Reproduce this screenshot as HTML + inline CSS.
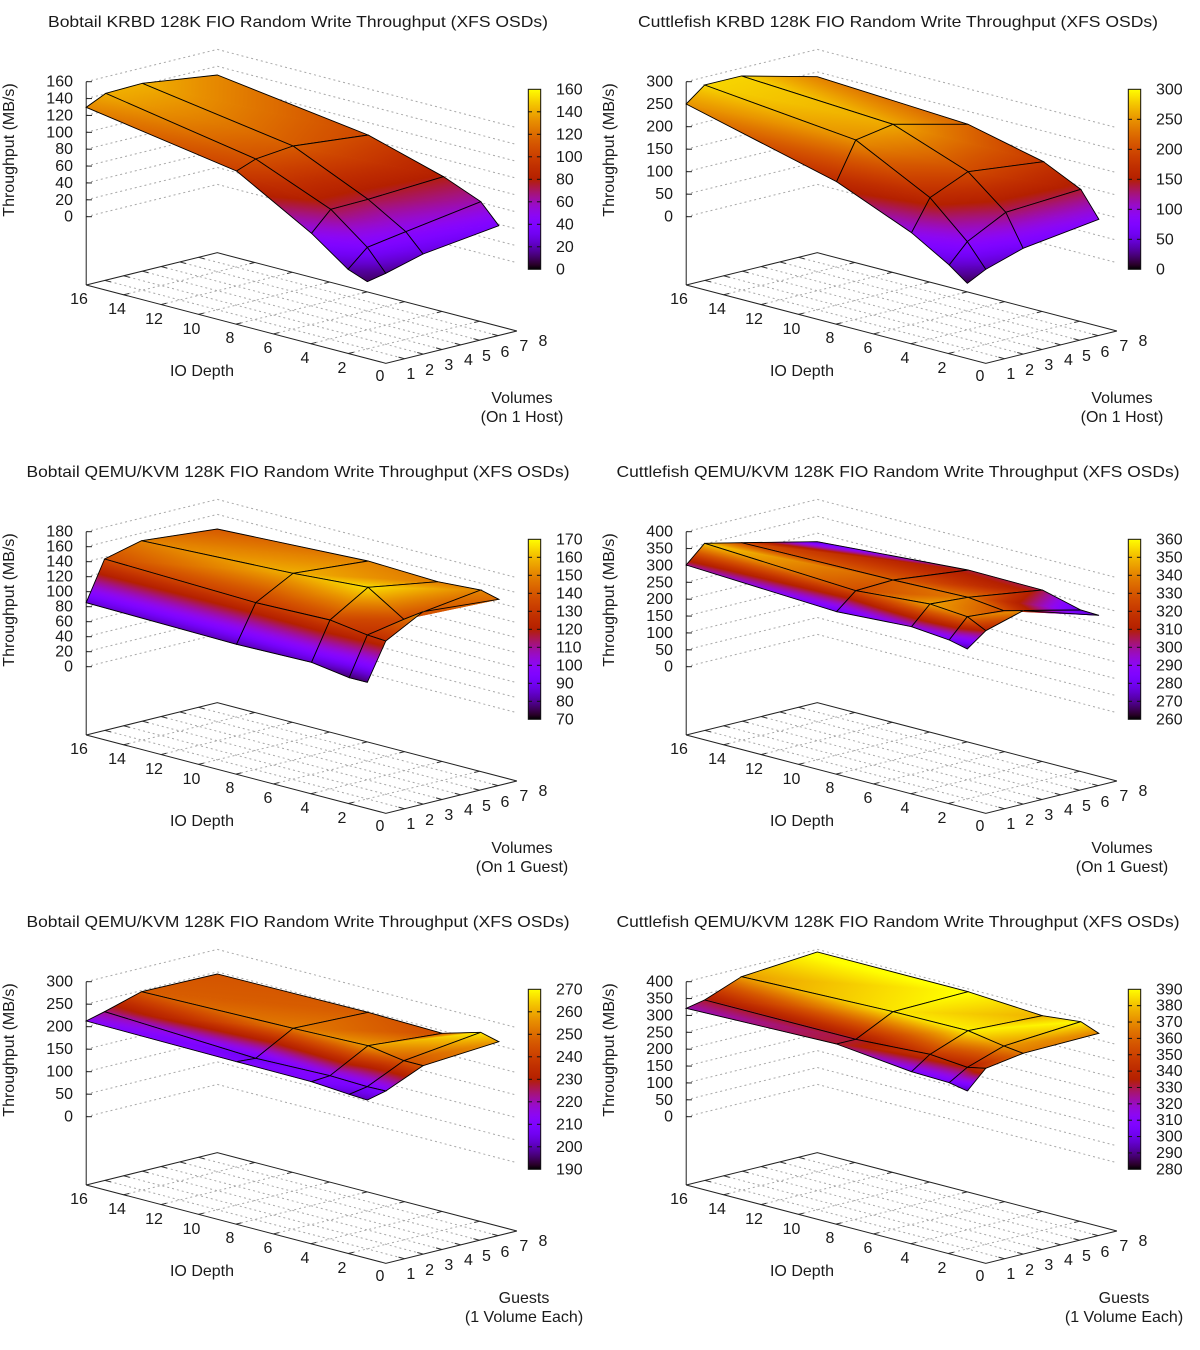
<!DOCTYPE html>
<html><head><meta charset="utf-8"><style>
html,body{margin:0;padding:0;background:#fff}
svg{display:block}
text{font-family:"Liberation Sans","DejaVu Sans",sans-serif;font-size:16px;fill:#1a1a1a}
.t{font-size:16px}
.e{text-anchor:end}
.m{text-anchor:middle}
</style></head><body>
<svg id="s" width="1200" height="1350" viewBox="0 0 1200 1350" xmlns="http://www.w3.org/2000/svg">
<defs id="defs"></defs>
<g id="p0" transform="translate(0,0)"><g id="l0"></g>
<text class="m t" x="298" y="27" textLength="500" lengthAdjust="spacingAndGlyphs">Bobtail KRBD 128K FIO Random Write Throughput (XFS OSDs)</text>
<text class="m" transform="translate(14,150) rotate(-90)">Throughput (MB/s)</text>
<text class="e" x="73" y="221.7">0</text><text class="e" x="73" y="204.8">20</text><text class="e" x="73" y="188">40</text><text class="e" x="73" y="171.1">60</text><text class="e" x="73" y="154.2">80</text><text class="e" x="73" y="137.3">100</text><text class="e" x="73" y="120.5">120</text><text class="e" x="73" y="103.6">140</text><text class="e" x="73" y="86.7">160</text>
<text x="556" y="274.3">0</text><text x="556" y="251.8">20</text><text x="556" y="229.3">40</text><text x="556" y="206.8">60</text><text x="556" y="184.3">80</text><text x="556" y="161.8">100</text><text x="556" y="139.3">120</text><text x="556" y="116.8">140</text><text x="556" y="94.3">160</text>
<text class="m" x="79" y="304">16</text><text class="m" x="117" y="314">14</text><text class="m" x="154" y="324">12</text><text class="m" x="191.5" y="334">10</text><text class="m" x="230" y="343">8</text><text class="m" x="268" y="353">6</text><text class="m" x="305" y="363">4</text><text class="m" x="342" y="373">2</text><text class="m" x="380" y="381">0</text>
<text class="m" x="410.8" y="379">1</text><text class="m" x="429.6" y="375">2</text><text class="m" x="448.8" y="370">3</text><text class="m" x="468.5" y="365">4</text><text class="m" x="486.5" y="361">5</text><text class="m" x="505" y="357">6</text><text class="m" x="523.8" y="351">7</text><text class="m" x="543" y="346">8</text>
<text class="m" x="202" y="376">IO Depth</text>
<text class="m" x="522" y="403">Volumes</text><text class="m" x="522" y="422">(On 1 Host)</text>
</g>
<g id="p1" transform="translate(600,0)"><g id="l1"></g>
<text class="m t" x="298" y="27" textLength="520" lengthAdjust="spacingAndGlyphs">Cuttlefish KRBD 128K FIO Random Write Throughput (XFS OSDs)</text>
<text class="m" transform="translate(14,150) rotate(-90)">Throughput (MB/s)</text>
<text class="e" x="73" y="221.7">0</text><text class="e" x="73" y="199.2">50</text><text class="e" x="73" y="176.7">100</text><text class="e" x="73" y="154.2">150</text><text class="e" x="73" y="131.7">200</text><text class="e" x="73" y="109.2">250</text><text class="e" x="73" y="86.7">300</text>
<text x="556" y="274.3">0</text><text x="556" y="244.3">50</text><text x="556" y="214.3">100</text><text x="556" y="184.3">150</text><text x="556" y="154.3">200</text><text x="556" y="124.3">250</text><text x="556" y="94.3">300</text>
<text class="m" x="79" y="304">16</text><text class="m" x="117" y="314">14</text><text class="m" x="154" y="324">12</text><text class="m" x="191.5" y="334">10</text><text class="m" x="230" y="343">8</text><text class="m" x="268" y="353">6</text><text class="m" x="305" y="363">4</text><text class="m" x="342" y="373">2</text><text class="m" x="380" y="381">0</text>
<text class="m" x="410.8" y="379">1</text><text class="m" x="429.6" y="375">2</text><text class="m" x="448.8" y="370">3</text><text class="m" x="468.5" y="365">4</text><text class="m" x="486.5" y="361">5</text><text class="m" x="505" y="357">6</text><text class="m" x="523.8" y="351">7</text><text class="m" x="543" y="346">8</text>
<text class="m" x="202" y="376">IO Depth</text>
<text class="m" x="522" y="403">Volumes</text><text class="m" x="522" y="422">(On 1 Host)</text>
</g>
<g id="p2" transform="translate(0,450)"><g id="l2"></g>
<text class="m t" x="298" y="27" textLength="543" lengthAdjust="spacingAndGlyphs">Bobtail QEMU/KVM 128K FIO Random Write Throughput (XFS OSDs)</text>
<text class="m" transform="translate(14,150) rotate(-90)">Throughput (MB/s)</text>
<text class="e" x="73" y="221.7">0</text><text class="e" x="73" y="206.7">20</text><text class="e" x="73" y="191.7">40</text><text class="e" x="73" y="176.7">60</text><text class="e" x="73" y="161.7">80</text><text class="e" x="73" y="146.7">100</text><text class="e" x="73" y="131.7">120</text><text class="e" x="73" y="116.7">140</text><text class="e" x="73" y="101.7">160</text><text class="e" x="73" y="86.7">180</text>
<text x="556" y="274.3">70</text><text x="556" y="256.3">80</text><text x="556" y="238.3">90</text><text x="556" y="220.3">100</text><text x="556" y="202.3">110</text><text x="556" y="184.3">120</text><text x="556" y="166.3">130</text><text x="556" y="148.3">140</text><text x="556" y="130.3">150</text><text x="556" y="112.3">160</text><text x="556" y="94.3">170</text>
<text class="m" x="79" y="304">16</text><text class="m" x="117" y="314">14</text><text class="m" x="154" y="324">12</text><text class="m" x="191.5" y="334">10</text><text class="m" x="230" y="343">8</text><text class="m" x="268" y="353">6</text><text class="m" x="305" y="363">4</text><text class="m" x="342" y="373">2</text><text class="m" x="380" y="381">0</text>
<text class="m" x="410.8" y="379">1</text><text class="m" x="429.6" y="375">2</text><text class="m" x="448.8" y="370">3</text><text class="m" x="468.5" y="365">4</text><text class="m" x="486.5" y="361">5</text><text class="m" x="505" y="357">6</text><text class="m" x="523.8" y="351">7</text><text class="m" x="543" y="346">8</text>
<text class="m" x="202" y="376">IO Depth</text>
<text class="m" x="522" y="403">Volumes</text><text class="m" x="522" y="422">(On 1 Guest)</text>
</g>
<g id="p3" transform="translate(600,450)"><g id="l3"></g>
<text class="m t" x="298" y="27" textLength="563" lengthAdjust="spacingAndGlyphs">Cuttlefish QEMU/KVM 128K FIO Random Write Throughput (XFS OSDs)</text>
<text class="m" transform="translate(14,150) rotate(-90)">Throughput (MB/s)</text>
<text class="e" x="73" y="221.7">0</text><text class="e" x="73" y="204.8">50</text><text class="e" x="73" y="188">100</text><text class="e" x="73" y="171.1">150</text><text class="e" x="73" y="154.2">200</text><text class="e" x="73" y="137.3">250</text><text class="e" x="73" y="120.5">300</text><text class="e" x="73" y="103.6">350</text><text class="e" x="73" y="86.7">400</text>
<text x="556" y="274.3">260</text><text x="556" y="256.3">270</text><text x="556" y="238.3">280</text><text x="556" y="220.3">290</text><text x="556" y="202.3">300</text><text x="556" y="184.3">310</text><text x="556" y="166.3">320</text><text x="556" y="148.3">330</text><text x="556" y="130.3">340</text><text x="556" y="112.3">350</text><text x="556" y="94.3">360</text>
<text class="m" x="79" y="304">16</text><text class="m" x="117" y="314">14</text><text class="m" x="154" y="324">12</text><text class="m" x="191.5" y="334">10</text><text class="m" x="230" y="343">8</text><text class="m" x="268" y="353">6</text><text class="m" x="305" y="363">4</text><text class="m" x="342" y="373">2</text><text class="m" x="380" y="381">0</text>
<text class="m" x="410.8" y="379">1</text><text class="m" x="429.6" y="375">2</text><text class="m" x="448.8" y="370">3</text><text class="m" x="468.5" y="365">4</text><text class="m" x="486.5" y="361">5</text><text class="m" x="505" y="357">6</text><text class="m" x="523.8" y="351">7</text><text class="m" x="543" y="346">8</text>
<text class="m" x="202" y="376">IO Depth</text>
<text class="m" x="522" y="403">Volumes</text><text class="m" x="522" y="422">(On 1 Guest)</text>
</g>
<g id="p4" transform="translate(0,900)"><g id="l4"></g>
<text class="m t" x="298" y="27" textLength="543" lengthAdjust="spacingAndGlyphs">Bobtail QEMU/KVM 128K FIO Random Write Throughput (XFS OSDs)</text>
<text class="m" transform="translate(14,150) rotate(-90)">Throughput (MB/s)</text>
<text class="e" x="73" y="221.7">0</text><text class="e" x="73" y="199.2">50</text><text class="e" x="73" y="176.7">100</text><text class="e" x="73" y="154.2">150</text><text class="e" x="73" y="131.7">200</text><text class="e" x="73" y="109.2">250</text><text class="e" x="73" y="86.7">300</text>
<text x="556" y="274.3">190</text><text x="556" y="251.8">200</text><text x="556" y="229.3">210</text><text x="556" y="206.8">220</text><text x="556" y="184.3">230</text><text x="556" y="161.8">240</text><text x="556" y="139.3">250</text><text x="556" y="116.8">260</text><text x="556" y="94.3">270</text>
<text class="m" x="79" y="304">16</text><text class="m" x="117" y="314">14</text><text class="m" x="154" y="324">12</text><text class="m" x="191.5" y="334">10</text><text class="m" x="230" y="343">8</text><text class="m" x="268" y="353">6</text><text class="m" x="305" y="363">4</text><text class="m" x="342" y="373">2</text><text class="m" x="380" y="381">0</text>
<text class="m" x="410.8" y="379">1</text><text class="m" x="429.6" y="375">2</text><text class="m" x="448.8" y="370">3</text><text class="m" x="468.5" y="365">4</text><text class="m" x="486.5" y="361">5</text><text class="m" x="505" y="357">6</text><text class="m" x="523.8" y="351">7</text><text class="m" x="543" y="346">8</text>
<text class="m" x="202" y="376">IO Depth</text>
<text class="m" x="524" y="403">Guests</text><text class="m" x="524" y="422">(1 Volume Each)</text>
</g>
<g id="p5" transform="translate(600,900)"><g id="l5"></g>
<text class="m t" x="298" y="27" textLength="563" lengthAdjust="spacingAndGlyphs">Cuttlefish QEMU/KVM 128K FIO Random Write Throughput (XFS OSDs)</text>
<text class="m" transform="translate(14,150) rotate(-90)">Throughput (MB/s)</text>
<text class="e" x="73" y="221.7">0</text><text class="e" x="73" y="204.8">50</text><text class="e" x="73" y="188">100</text><text class="e" x="73" y="171.1">150</text><text class="e" x="73" y="154.2">200</text><text class="e" x="73" y="137.3">250</text><text class="e" x="73" y="120.5">300</text><text class="e" x="73" y="103.6">350</text><text class="e" x="73" y="86.7">400</text>
<text x="556" y="274.3">280</text><text x="556" y="257.9">290</text><text x="556" y="241.6">300</text><text x="556" y="225.2">310</text><text x="556" y="208.8">320</text><text x="556" y="192.5">330</text><text x="556" y="176.1">340</text><text x="556" y="159.8">350</text><text x="556" y="143.4">360</text><text x="556" y="127">370</text><text x="556" y="110.7">380</text><text x="556" y="94.3">390</text>
<text class="m" x="79" y="304">16</text><text class="m" x="117" y="314">14</text><text class="m" x="154" y="324">12</text><text class="m" x="191.5" y="334">10</text><text class="m" x="230" y="343">8</text><text class="m" x="268" y="353">6</text><text class="m" x="305" y="363">4</text><text class="m" x="342" y="373">2</text><text class="m" x="380" y="381">0</text>
<text class="m" x="410.8" y="379">1</text><text class="m" x="429.6" y="375">2</text><text class="m" x="448.8" y="370">3</text><text class="m" x="468.5" y="365">4</text><text class="m" x="486.5" y="361">5</text><text class="m" x="505" y="357">6</text><text class="m" x="523.8" y="351">7</text><text class="m" x="543" y="346">8</text>
<text class="m" x="202" y="376">IO Depth</text>
<text class="m" x="524" y="403">Guests</text><text class="m" x="524" y="422">(1 Volume Each)</text>
</g>
</svg>
<script>
(function(){
var NS="http://www.w3.org/2000/svg";
var defs=document.getElementById("defs");
function el(n,a,p){var e=document.createElementNS(NS,n);for(var k in a)e.setAttribute(k,a[k]);if(p)p.appendChild(e);return e;}
function pal(t){t=Math.max(0,Math.min(1,t));var r=Math.sqrt(t),g=t*t*t,b=Math.max(0,Math.sin(2*Math.PI*t));
return "rgb("+Math.round(r*255)+","+Math.round(g*255)+","+Math.round(b*255)+")";}
function stops(g){for(var i=0;i<=40;i++){el("stop",{offset:(i/40),"stop-color":pal(i/40)},g);}}
var gid=0;
var A=[86.2,285],DV=[131.1,-32.3],DD=[299.6,78.3];
var ztop=[160,300,180,400,300,400];
var cb=[[0,160],[0,300],[70,170],[260,360],[190,270],[280,390]];
var S=[
[[[224,142],[615,333],[810,520],[905,628],[955,665]],
 [[275,100],[665,297],[860,448],[955,562],[1003,640]],
 [[370,70],[762,258],[957,418],[1055,515],[1100,582]],
 [[565,45],[957,225],[1153,350],[1250,425],[1297,497]]],
[[[224,132],[615,365],[810,518],[908,615],[955,670]],
 [[272,75],[665,240],[858,413],[955,545],[1003,628]],
 [[368,48],[762,193],[957,335],[1055,457],[1100,565]],
 [[565,50],[957,193],[1153,305],[1250,388],[1297,478]]],
[[[224,278],[615,403],[810,457],[908,503],[955,517]],
 [[272,147],[665,278],[858,330],[955,375],[1003,393]],
 [[368,92],[762,190],[957,232],[1050,328],[1100,305]],
 [[565,57],[957,153],[1138,215],[1250,240],[1297,268]]],
[[[224,165],[615,305],[810,350],[908,390],[955,417]],
 [[272,100],[665,242],[858,282],[955,320],[1003,362]],
 [[368,98],[762,210],[957,262],[1050,302],[1100,302]],
 [[565,95],[957,180],[1150,240],[1250,300],[1297,316]]],
[[[224,183],[615,305],[810,365],[908,403],[955,420]],
 [[272,155],[665,295],[858,347],[955,380],[1003,393]],
 [[368,95],[762,205],[957,257],[1050,302],[1100,317]],
 [[565,42],[957,157],[1150,220],[1250,217],[1297,245]]],
[[[224,145],[615,252],[810,335],[908,368],[955,393]],
 [[272,120],[665,238],[858,283],[955,322],[1003,325]],
 [[368,50],[762,155],[957,212],[1050,258],[1100,280]],
 [[565,-24],[957,95],[1150,167],[1250,185],[1297,220]]]
];
var FD=[0,0.5,0.75,0.875,0.9375],FV=[0,1/7,3/7,1];
function P(a,b){return a[0].toFixed(2)+","+a[1].toFixed(2)+" ";}
function add(a,b,s){return [a[0]+b[0]*s,a[1]+b[1]*s];}
for(var p=0;p<6;p++){
 var g=document.getElementById("l"+p);
 var k=135/ztop[p];
 var grey={stroke:"#a8a8a8","stroke-width":"1","stroke-dasharray":"2,3",fill:"none"};
 // back wall grid
 var n=ztop[p]===180?10:(ztop[p]===300?7:9);
 for(var i=0;i<n;i++){var y=216.7-i*135/(n-1);
  el("polyline",Object.assign({points:"86.2,"+y+" "+(86.2+DV[0])+","+(y+DV[1])+" "+(86.2+DV[0]+DD[0])+","+(y+DV[1]+DD[1])},grey),g);}
 // base grid
 var B=add(A,DD,1),D=add(A,DV,1),C=add(D,DD,1);
 for(var i=1;i<8;i++){var q=add(A,DD,i/8),r=add(q,DV,1);el("line",Object.assign({x1:q[0],y1:q[1],x2:r[0],y2:r[1]},grey),g);
  var t1=add(q,DV,0.04),t2=add(r,DV,-0.04);
  el("line",{x1:q[0],y1:q[1],x2:t1[0],y2:t1[1],stroke:"#333"},g);el("line",{x1:r[0],y1:r[1],x2:t2[0],y2:t2[1],stroke:"#333"},g);}
 for(var j=1;j<7;j++){var q=add(A,DV,j/7),r=add(q,DD,1);el("line",Object.assign({x1:q[0],y1:q[1],x2:r[0],y2:r[1]},grey),g);
  var t1=add(q,DD,0.02),t2=add(r,DD,-0.02);
  el("line",{x1:q[0],y1:q[1],x2:t1[0],y2:t1[1],stroke:"#333"},g);el("line",{x1:r[0],y1:r[1],x2:t2[0],y2:t2[1],stroke:"#333"},g);}
 el("polygon",{points:P(A)+P(B)+P(C)+P(D),fill:"none",stroke:"#222","stroke-width":"1"},g);
 // z axis
 el("line",{x1:86.2,y1:81.7,x2:86.2,y2:285,stroke:"#222"},g);
 for(var i=0;i<n;i++){var y=216.7-i*135/(n-1);el("line",{x1:86.2,y1:y,x2:92,y2:y,stroke:"#222"},g);}
 // colorbar
 var cg=el("linearGradient",{id:"cb"+p,x1:"0",y1:"1",x2:"0",y2:"0"},defs);stops(cg);
 el("rect",{x:528.3,y:89.3,width:12.4,height:180,fill:"url(#cb"+p+")",stroke:"#111","stroke-width":"1"},g);
 var nc=[9,7,11,11,9,12][p];
 for(var i=1;i<nc-1;i++){var y=269.3-i*180/(nc-1);
  el("line",{x1:528.3,y1:y,x2:532,y2:y,stroke:"#111"},g);el("line",{x1:536.9,y1:y,x2:540.7,y2:y,stroke:"#111"},g);}
 // surface
 var V=[];
 for(var r=0;r<4;r++){V.push([]);for(var c=0;c<5;c++){var z=S[p][r][c];var x=z[0]/2.6,y=z[1]/3+60;
  var yb=216.7+FD[c]*78.3-FV[r]*32.3;var zz=(yb-y)/k;var t=(zz-cb[p][0])/(cb[p][1]-cb[p][0]);
  V[r].push([x,y,t]);}}
 var quads=[];
 for(var r=0;r<3;r++)for(var c=0;c<4;c++){
  var cl=(FD[c]+FD[c+1])/2*78.3-(FV[r]+FV[r+1])/2*32.3;quads.push([cl,r,c]);}
 quads.sort(function(a,b){return a[0]-b[0];});
 quads.forEach(function(qd){var r=qd[1],c=qd[2];
  var q=[V[r][c],V[r][c+1],V[r+1][c+1],V[r+1][c]];
  [[q[0],q[1],q[2]],[q[0],q[2],q[3]]].forEach(function(T){
   var e1=[T[1][0]-T[0][0],T[1][1]-T[0][1]],e2=[T[2][0]-T[0][0],T[2][1]-T[0][1]];
   var d1=T[1][2]-T[0][2],d2=T[2][2]-T[0][2];var det=e1[0]*e2[1]-e1[1]*e2[0];
   var fill;
   if(Math.abs(det)<1e-6){fill=pal((T[0][2]+T[1][2]+T[2][2])/3);}
   else{var a=(d1*e2[1]-d2*e1[1])/det,b=(e1[0]*d2-e2[0]*d1)/det,g2=a*a+b*b;
    if(g2<1e-12){fill=pal(T[0][2]);}
    else{var s0=-T[0][2]/g2,s1=(1-T[0][2])/g2;var id="g"+(gid++);
     var lg=el("linearGradient",{id:id,gradientUnits:"userSpaceOnUse",x1:T[0][0]+a*s0,y1:T[0][1]+b*s0,x2:T[0][0]+a*s1,y2:T[0][1]+b*s1},defs);stops(lg);fill="url(#"+id+")";}}
   el("polygon",{points:P(T[0])+P(T[1])+P(T[2]),fill:fill,stroke:fill,"stroke-width":"0.6","stroke-linejoin":"round"},g);
  });
  el("polygon",{points:P(q[0])+P(q[1])+P(q[2])+P(q[3]),fill:"none",stroke:"#000","stroke-width":"0.9"},g);
 });
}
})();
</script>
</body></html>
